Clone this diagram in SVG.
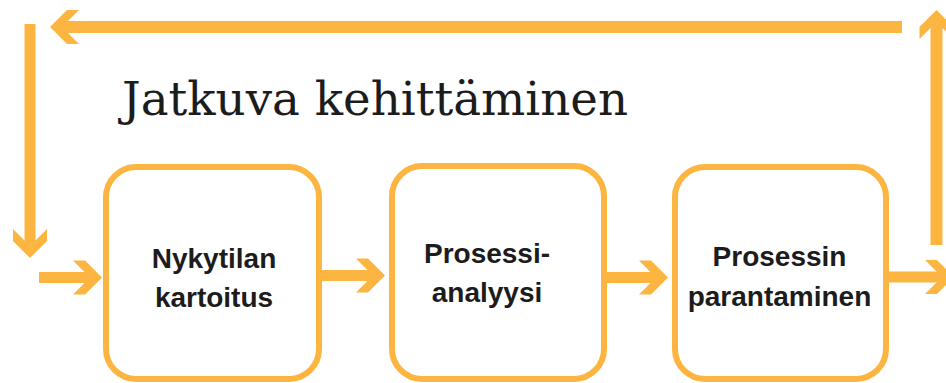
<svg xmlns="http://www.w3.org/2000/svg" width="946" height="383" viewBox="0 0 946 383">
  <style>
    .box { fill: #ffffff; stroke: #FBB540; stroke-width: 6; }
    .bar { fill: #FBB540; }
    .head { fill: #FBB540; }
    .lbl { font-family: "Liberation Sans", Arial, sans-serif; font-weight: bold; font-size: 28px; fill: #1c1c1c; text-anchor: middle; }
    .title { font-family: "DejaVu Serif", "Liberation Serif", serif; font-size: 47px; fill: #1c1c1c; }
  </style>
  <defs>
    <polygon id="hd" points="0,0 -17,-17 -29,-17 -12,0 -29,17 -17,17"/>
  </defs>
  <rect width="946" height="383" fill="#ffffff"/>
  <text class="title" x="122" y="115" textLength="506" lengthAdjust="spacingAndGlyphs">Jatkuva kehittäminen</text>
  <g id="connectors">
    <!-- top loop: right vertical up -->
    <rect class="bar" x="930.5" y="16" width="12" height="229"/>
    <use href="#hd" class="head" transform="translate(936.5,10) rotate(-90)"/>
    <!-- top horizontal left -->
    <rect class="bar" x="56" y="21" width="846" height="12"/>
    <use href="#hd" class="head" transform="translate(50,27) rotate(180)"/>
    <!-- left vertical down -->
    <rect class="bar" x="24.5" y="24" width="11" height="228"/>
    <use href="#hd" class="head" transform="translate(30,258) rotate(90)"/>
    <!-- into box 1 -->
    <rect class="bar" x="39" y="272" width="57" height="11"/>
    <use href="#hd" class="head" transform="translate(102,277.5)"/>
    <!-- box1 to box2 -->
    <rect class="bar" x="320" y="270" width="59" height="11"/>
    <use href="#hd" class="head" transform="translate(385,275.5)"/>
    <!-- box2 to box3 -->
    <rect class="bar" x="606" y="272" width="56" height="11"/>
    <use href="#hd" class="head" transform="translate(668,277.5)"/>
    <!-- box3 out -->
    <rect class="bar" x="888" y="271.5" width="58" height="11"/>
    <use href="#hd" class="head" transform="translate(954,277)"/>
  </g>
  <g id="node1">
    <rect class="box" x="106" y="167" width="213" height="212" rx="30"/>
    <text class="lbl" x="214" y="268">Nykytilan</text>
    <text class="lbl" x="214" y="307">kartoitus</text>
  </g>
  <g id="node2">
    <rect class="box" x="392" y="166" width="212" height="213" rx="30"/>
    <text class="lbl" x="487" y="263">Prosessi-</text>
    <text class="lbl" x="487" y="302">analyysi</text>
  </g>
  <g id="node3">
    <rect class="box" x="675" y="167" width="211" height="212" rx="30"/>
    <text class="lbl" x="779.5" y="266">Prosessin</text>
    <text class="lbl" x="779.5" y="306">parantaminen</text>
  </g>
</svg>
